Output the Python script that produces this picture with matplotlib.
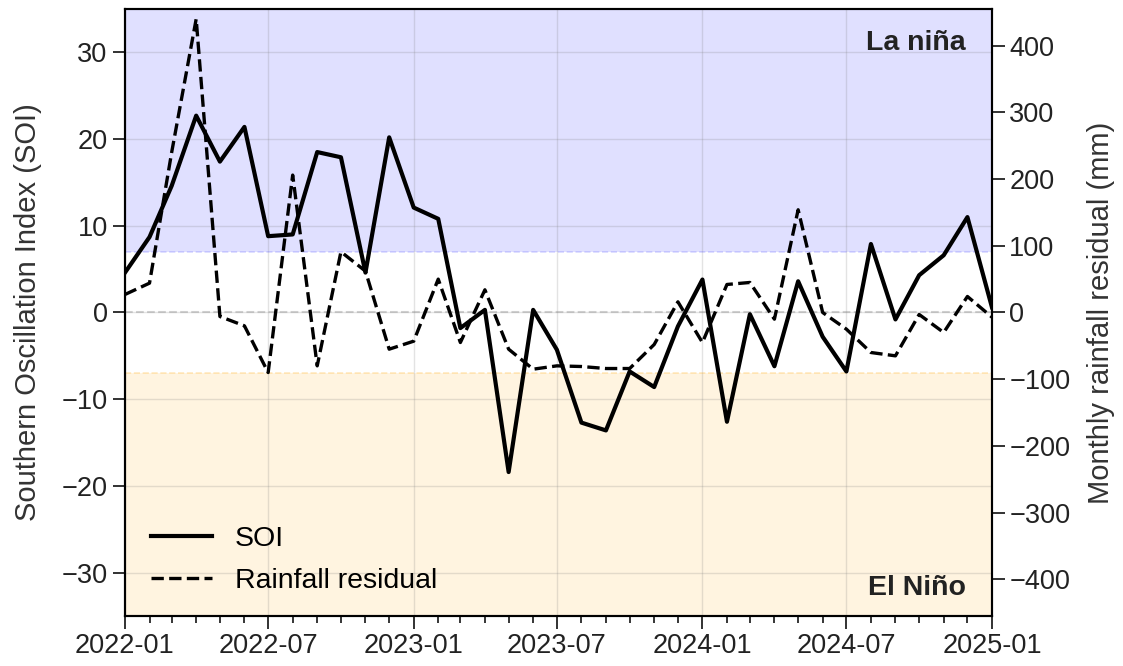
import numpy as np
import pandas as pd
import matplotlib
matplotlib.use('Agg')
import matplotlib.pyplot as plt
import matplotlib.dates as mdates

plt.rcParams['font.family'] = ['Liberation Sans', 'DejaVu Sans']
plt.rcParams['font.size'] = 19

# monthly values 2022-01 .. 2025-01
months = pd.date_range('2022-01-01', '2025-01-01', freq='MS')
soi = [4.6, 8.7, 14.6, 22.7, 17.4, 21.4, 8.8, 9.0, 18.5, 17.9, 4.6, 20.2,
       12.1, 10.8, -1.8, 0.3, -18.4, 0.3, -4.3, -12.7, -13.6, -6.8, -8.6, -1.6,
       3.8, -12.6, -0.2, -6.2, 3.6, -2.8, -6.8, 7.9, -0.8, 4.3, 6.6, 11.0, 0.6]
rain = [27, 44, 240, 440, -6, -20, -90, 206, -80, 91, 62, -55,
        -43, 50, -45, 34, -55, -85, -80, -81, -84, -84, -48, 16,
        -45, 42, 45, -10, 154, 0, -25, -60, -65, -3, -30, 24, -7]

fig = plt.figure(figsize=(11.23, 6.66), dpi=100)
ax = fig.add_axes([0.1113, 0.0751, 0.772, 0.9114])
ax2 = ax.twinx()

ax.axhspan(7, 35, color='blue', alpha=0.12, lw=0)
ax.axhspan(-35, -7, color='orange', alpha=0.12, lw=0)
ax.axhline(7, color='blue', alpha=0.15, ls='--', lw=1.2)
ax.axhline(-7, color='orange', alpha=0.25, ls='--', lw=1.2)
ax.axhline(0, color='gray', alpha=0.35, ls='--', lw=1.5)

l1, = ax.plot(months, soi, color='black', lw=3.0, label='SOI', zorder=3)
l2, = ax2.plot(months, rain, color='black', lw=2.4, ls='--', label='Rainfall residual', zorder=3)

ax.set_ylim(-35, 35)
ax2.set_ylim(-455, 455)
ax.set_xlim(months[0], months[-1])
ax.set_yticks([-30, -20, -10, 0, 10, 20, 30])
ax2.set_yticks([-400, -300, -200, -100, 0, 100, 200, 300, 400])

ax.xaxis.set_major_locator(mdates.MonthLocator(bymonth=[1, 7]))
ax.xaxis.set_major_formatter(mdates.DateFormatter('%Y-%m'))
ax.xaxis.set_minor_locator(mdates.MonthLocator())

ax.grid(True, which='major', color='gray', alpha=0.22, lw=1)
for a in (ax, ax2):
    a.tick_params(which='major', length=9, width=1.3, labelsize=19.5, colors='#222222')
    a.tick_params(which='minor', length=5, width=1.1)
    for s in a.spines.values():
        s.set_linewidth(1.5)

ax.set_ylabel('Southern Oscillation Index (SOI)', fontsize=21, color='#333333', labelpad=14)
ax2.set_ylabel('Monthly rainfall residual (mm)', fontsize=21, color='#333333', labelpad=12)

ax.text(0.97, 0.965, 'La niña', transform=ax.transAxes, ha='right', va='top',
        fontsize=20.5, fontweight='bold', color='#222222')
ax.text(0.97, 0.025, 'El Niño', transform=ax.transAxes, ha='right', va='bottom',
        fontsize=20.5, fontweight='bold', color='#222222')

ax2.legend([l1, l2], ['SOI', 'Rainfall residual'], loc='lower left', frameon=False,
           fontsize=20.5, handlelength=2.15, labelspacing=0.55, bbox_to_anchor=(0.0, -0.006))

fig.savefig('out.png', dpi=100)
